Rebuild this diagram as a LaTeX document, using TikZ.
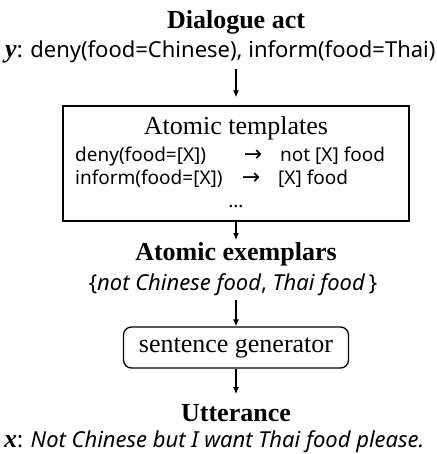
\documentclass[tikz,border=0pt]{standalone}
\usepackage{fontspec}
\setmainfont{Liberation Serif}
\setsansfont{Noto Sans}
\newfontfamily\arrowfont{DejaVu Sans}
\usetikzlibrary{positioning, arrows.meta}

\newcommand{\varlabel}[1]{{\rmfamily\bfseries\itshape\fontsize{26}{30}\selectfont #1}\textbf{:}}

\tikzset{
	heading/.style={font=\fontsize{26}{30}\selectfont\bfseries, inner sep=0pt},
	plain/.style={font=\fontsize{26}{30}\selectfont, inner sep=0pt},
	sanstext/.style={font=\fontsize{22}{26}\selectfont\sffamily, inner sep=0pt},
	rowtext/.style={font=\fontsize{19}{23}\selectfont\sffamily, inner sep=0pt},
	flow/.style={-{Latex[length=7pt,width=6pt]}, line width=1.2pt},
	tplbox/.style={draw, line width=1.3pt, minimum width=346pt, minimum height=115pt, inner sep=0pt},
	genbox/.style={draw, rounded corners=8pt, line width=1.3pt, minimum width=225pt, minimum height=41pt, inner sep=0pt}
}

\begin{document}
\begin{tikzpicture}[x=1pt, y=-1pt]
					\useasboundingbox (0,0) rectangle (436,454);
					% dialogue act
					\node[heading] (dact) at (236,22) {Dialogue act};
					\node[sanstext, anchor=base west] (yact) at (5,58) {\varlabel{y} deny(food=Chinese), inform(food=Thai)};
					% templates
					\node[tplbox] (templates) at (236,163.5) {};
					\node[plain] (tpltitle) at (236,128) {Atomic templates};
					\node[rowtext, anchor=base west] (denyl) at (75,162) {deny(food=[X])};
					\node[rowtext, anchor=base west] (informl) at (75,185) {inform(food=[X])};
					\node[rowtext, anchor=base] (denya) at (253,162) {\arrowfont\fontsize{22}{26}\selectfont →};
					\node[rowtext, anchor=base] (informa) at (251,185) {\arrowfont\fontsize{22}{26}\selectfont →};
					\node[rowtext, anchor=base west] (denyr) at (280,162) {not [X] food};
					\node[rowtext, anchor=base west] (informr) at (278,185) {[X] food};
					\node[rowtext] (tpldots) at (236,206) {\dots};
					% exemplars
					\node[heading] (exemplars) at (236,254) {Atomic exemplars};
					\node[sanstext] (exset) at (233,285) {\{\textit{not Chinese food}, \textit{Thai food}\,\}};
					\node[genbox, plain] (generator) at (236,347.5) {sentence generator};
					% utterance
					\node[heading] (utter) at (236,413) {Utterance};
					\node[sanstext, anchor=base west] (xutt) at (4,447) {\varlabel{x} \textit{Not Chinese but I want Thai food please.}};
					% arrows
					\draw[flow] (yact.south -| templates.north) ++(0,5) -- ([yshift=8pt]templates.north);
					\draw[flow] (templates.south) -- ([yshift=2pt]exemplars.north);
					\draw[flow] (exset.south -| generator.north) ++(0,4) -- (generator.north);
					\draw[flow] (generator.south) -- ([yshift=10pt]utter.north);
				\end{tikzpicture}
\end{document}
